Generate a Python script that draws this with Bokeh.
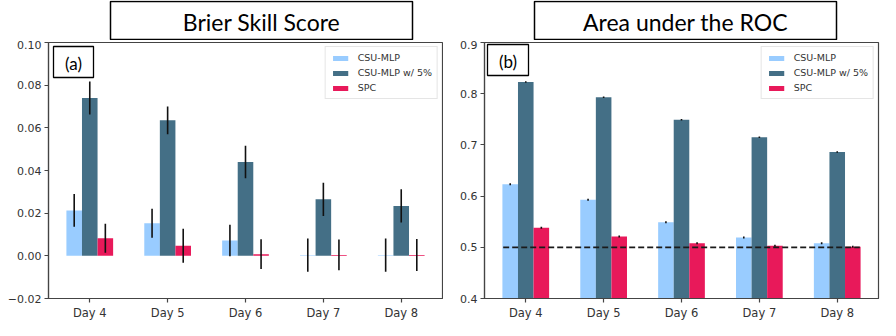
from bokeh.plotting import figure
from bokeh.layouts import row, column
from bokeh.models import (ColumnDataSource, FactorRange, Range1d, FixedTicker,
                          CustomJSTickFormatter, Legend, LegendItem, Label,
                          BoxAnnotation)
from bokeh.transform import dodge
from bokeh.embed import file_html
from bokeh.resources import INLINE

# ---------------- data ----------------
days = ["Day 4", "Day 5", "Day 6", "Day 7", "Day 8"]
series_names = ["CSU-MLP", "CSU-MLP w/ 5%", "SPC"]

bss_mlp = [0.0213, 0.0153, 0.0072, 0.0003, 0.0003]
bss_mlp_err = [0.0077, 0.0068, 0.0074, 0.0078, 0.0078]
bss_mlp5 = [0.0740, 0.0635, 0.0440, 0.0265, 0.0234]
bss_mlp5_err = [0.0077, 0.0065, 0.0076, 0.0078, 0.0078]
bss_spc = [0.0082, 0.0047, 0.0008, 0.0004, 0.0004]
bss_spc_err = [0.0068, 0.0080, 0.0070, 0.0072, 0.0075]

auc_mlp = [0.623, 0.593, 0.549, 0.519, 0.508]
auc_mlp_err = [0.002, 0.002, 0.002, 0.002, 0.002]
auc_mlp5 = [0.823, 0.793, 0.749, 0.715, 0.686]
auc_mlp5_err = [0.0015, 0.0015, 0.0015, 0.0015, 0.0015]
auc_spc = [0.538, 0.521, 0.508, 0.503, 0.501]
auc_spc_err = [0.002, 0.002, 0.002, 0.002, 0.002]
auc_reference = 0.5

bss_ticks = [-0.02, 0.0, 0.02, 0.04, 0.06, 0.08, 0.10]
auc_ticks = [0.4, 0.5, 0.6, 0.7, 0.8, 0.9]

titles = ["Brier Skill Score", "Area under the ROC"]
panel_tags = ["(a)", "(b)"]

colors = ["#99ccff", "#446f86", "#e8195a"]
offsets = [-0.2, 0.0, 0.2]
BAR_W = 0.2
RANGE_PAD = 0.012
AXIS_COLOR = "#444444"
TICK_FONT = "DejaVu Sans"
TITLE_H = 40
FRAME_H = 256


def title_fig(text, frame_w, left, right, box_left):
    t = figure(frame_width=frame_w, frame_height=TITLE_H,
               min_border_left=left, min_border_right=right,
               min_border_top=0, min_border_bottom=0,
               x_range=Range1d(0, frame_w), y_range=Range1d(0, TITLE_H),
               x_axis_location=None, y_axis_location=None,
               toolbar_location=None, output_backend="svg")
    t.xgrid.visible = False
    t.ygrid.visible = False
    t.outline_line_color = None
    t.add_layout(BoxAnnotation(left=box_left, right=box_left + 302,
                               bottom=1, top=TITLE_H - 1,
                               fill_color=None, fill_alpha=0,
                               line_color="black", line_width=1.5,
                               line_alpha=1.0))
    t.add_layout(Label(x=box_left + 151, y=TITLE_H / 2 - 1,
                       text=text, text_align="center",
                       text_baseline="middle", text_font="Lato",
                       text_font_size="23px", text_color="black"))
    return t


def panel(values, errs, y_start, y_end, ticks, decimals, tag, frame_w,
          left, right, tag_box, ref=None):
    p = figure(x_range=FactorRange(factors=days, range_padding=RANGE_PAD),
               y_range=Range1d(y_start, y_end),
               frame_width=frame_w, frame_height=FRAME_H,
               min_border_left=left, min_border_right=right,
               min_border_top=2, min_border_bottom=22,
               toolbar_location=None, output_backend="svg")
    p.xgrid.visible = False
    p.ygrid.visible = False
    p.outline_line_color = AXIS_COLOR
    p.outline_line_width = 1.2
    p.outline_line_alpha = 1.0

    items = []
    for name, vals, er, col, off in zip(series_names, values, errs, colors, offsets):
        src = ColumnDataSource(dict(
            day=days, top=vals,
            lo=[v - e for v, e in zip(vals, er)],
            hi=[v + e for v, e in zip(vals, er)]))
        r = p.vbar(x=dodge("day", off, range=p.x_range), top="top", bottom=0,
                   width=BAR_W, source=src, fill_color=col, line_color=None)
        p.segment(x0=dodge("day", off, range=p.x_range), y0="lo",
                  x1=dodge("day", off, range=p.x_range), y1="hi",
                  source=src, line_color="#111111", line_width=1.6)
        items.append(LegendItem(label=name, renderers=[r]))

    if ref is not None:
        rsrc = ColumnDataSource(dict(x0=[days[0]], x1=[days[-1]], y=[ref]))
        p.segment(x0=dodge("x0", -0.29, range=p.x_range), y0="y",
                  x1=dodge("x1", 0.29, range=p.x_range), y1="y",
                  source=rsrc, line_color="#1a1a1a", line_width=1.8,
                  line_dash="6 3")

    legend = Legend(items=items, location="top_right",
                    label_text_font=TICK_FONT, label_text_font_size="9.5px",
                    label_text_color="#333333",
                    glyph_width=19, glyph_height=6, label_height=11,
                    label_standoff=8, spacing=4, padding=5, margin=4,
                    border_line_color="#cccccc", border_line_width=1,
                    background_fill_alpha=0.85)
    p.add_layout(legend)

    p.yaxis.ticker = FixedTicker(ticks=ticks)
    p.yaxis.formatter = CustomJSTickFormatter(
        args=dict(d=decimals),
        code="return tick.toFixed(d).replace('-', '\u2212');")
    for ax in (p.xaxis, p.yaxis):
        ax.axis_line_color = AXIS_COLOR
        ax.axis_line_width = 1.2
        ax.major_tick_line_color = AXIS_COLOR
        ax.major_tick_line_width = 1.2
        ax.major_tick_in = 0
        ax.major_tick_out = 4
        ax.minor_tick_line_color = None
        ax.major_label_text_color = "#333333"
        ax.major_label_text_font = TICK_FONT
        ax.major_label_standoff = 3
    p.yaxis.major_label_text_font_size = "11px"
    p.xaxis.major_label_text_font_size = "11.5px"

    # panel tag box (frame pixel offsets -> data coordinates)
    n = len(days)
    xs0, xs1 = -RANGE_PAD * n / 2, n + RANGE_PAD * n / 2
    bl, br, bt, bb = tag_box

    def fx(px):
        return xs0 + px / frame_w * (xs1 - xs0)

    def fy(py):
        return y_end - py / FRAME_H * (y_end - y_start)

    p.add_layout(BoxAnnotation(left=fx(bl), right=fx(br), top=fy(bt), bottom=fy(bb),
                               fill_color="white", fill_alpha=1.0,
                               line_color="black", line_width=1.3, line_alpha=1.0))
    p.add_layout(Label(x=fx((bl + br) / 2), y=fy((bt + bb) / 2 + 1),
                       text=tag, text_align="center", text_baseline="middle",
                       text_font="Lato", text_font_size="17px",
                       text_color="black"))
    return p


t1 = title_fig(titles[0], 394, 48, 1, 62)
p1 = panel([bss_mlp, bss_mlp5, bss_spc], [bss_mlp_err, bss_mlp5_err, bss_spc_err],
           -0.02, 0.10, bss_ticks, 2, panel_tags[0], 394, 48, 1, (5, 45, 4, 35))

t2 = title_fig(titles[1], 394, 41, 2, 50)
p2 = panel([auc_mlp, auc_mlp5, auc_spc], [auc_mlp_err, auc_mlp5_err, auc_spc_err],
           0.4, 0.9, auc_ticks, 1, panel_tags[1], 394, 41, 2, (3, 44, 2, 33),
           ref=auc_reference)

layout = row(column(t1, p1), column(t2, p2))

open("out.html", "w").write(file_html(layout, INLINE))
